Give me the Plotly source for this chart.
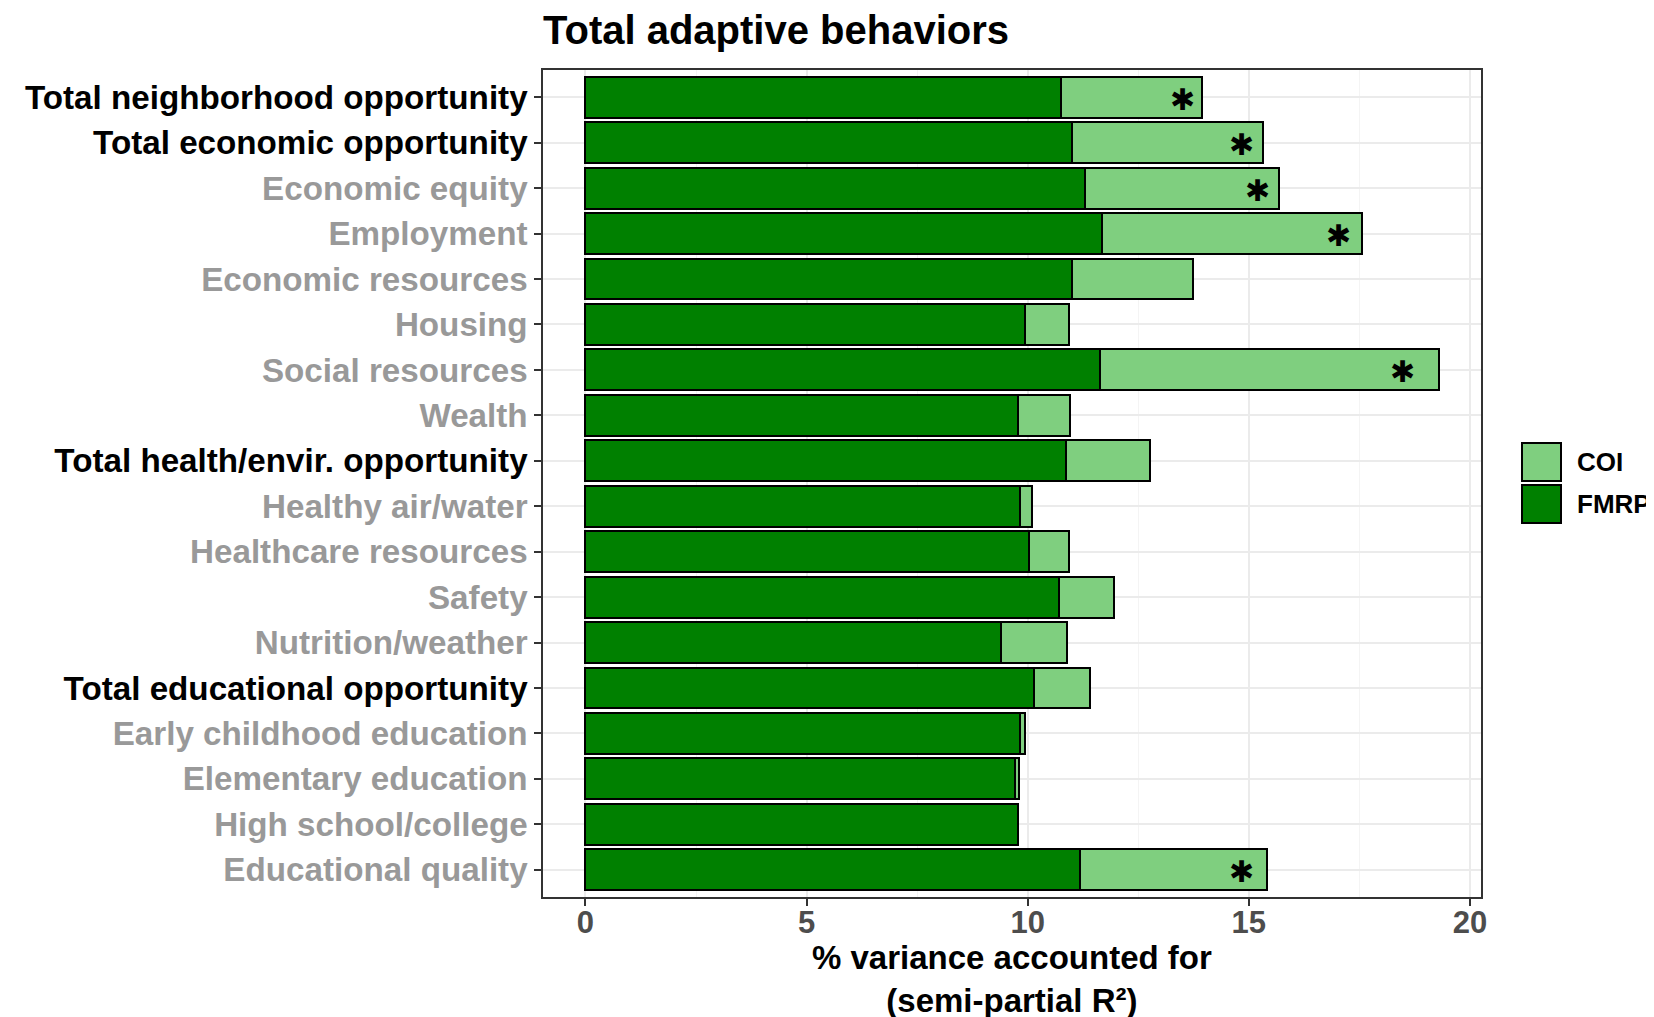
import plotly.graph_objects as go

categories = [
    "Total neighborhood opportunity", "Total economic opportunity", "Economic equity",
    "Employment", "Economic resources", "Housing", "Social resources", "Wealth",
    "Total health/envir. opportunity", "Healthy air/water", "Healthcare resources",
    "Safety", "Nutrition/weather", "Total educational opportunity",
    "Early childhood education", "Elementary education", "High school/college",
    "Educational quality",
]
is_total = [True, True, False, False, False, False, False, False, True,
            False, False, False, False, True, False, False, False, False]
fmrp = [10.76, 11.00, 11.29, 11.69, 11.00, 9.93, 11.64, 9.79, 10.86,
        9.83, 10.02, 10.71, 9.40, 10.14, 9.83, 9.71, 9.79, 11.19]
total = [13.95, 15.31, 15.69, 17.55, 13.74, 10.93, 19.29, 10.95, 12.76,
         10.10, 10.93, 11.95, 10.88, 11.40, 9.93, 9.81, 9.79, 15.40]
coi = [round(t - f, 3) for t, f in zip(total, fmrp)]

# significance markers: category and x-position of the "*"
star_categories = ["Total neighborhood opportunity", "Total economic opportunity",
                   "Economic equity", "Employment", "Social resources",
                   "Educational quality"]
star_x = [13.50, 14.84, 15.19, 17.02, 18.48, 14.84]

x_ticks = [0, 5, 10, 15, 20]

FMRP_COLOR = "#008000"
COI_COLOR = "#7FCF7F"
FONT = "Liberation Sans, Arial, sans-serif"

W, H = 1654, 1017
ML, MR, MT, MB = 535, 181, 62, 128
PW, PH = W - ML - MR, H - MT - MB

fig = go.Figure()
fig.add_trace(go.Bar(y=categories, x=fmrp, orientation="h", name="FMRP",
                     marker=dict(color=FMRP_COLOR, line=dict(color="black", width=2)),
                     width=0.9, showlegend=False))
fig.add_trace(go.Bar(y=categories, x=coi, orientation="h", name="COI",
                     marker=dict(color=COI_COLOR, line=dict(color="black", width=2)),
                     width=0.9, showlegend=False))

for c, sx in zip(star_categories, star_x):
    fig.add_annotation(x=sx, y=c, text="\u2731", showarrow=False,
                       xanchor="center", yanchor="middle", yshift=-2,
                       font=dict(size=30, color="black", family="DejaVu Sans"))

ticktext = [
    f"<b><span style='color:{'#000000' if t else '#999999'}'>{c}</span></b>"
    for c, t in zip(categories, is_total)
]

fig.update_layout(
    width=W, height=H,
    barmode="stack",
    plot_bgcolor="white", paper_bgcolor="white",
    margin=dict(l=ML, r=MR, t=MT, b=MB),
    font=dict(family=FONT),
    title=dict(text="<b>Total adaptive behaviors</b>", x=535 / W, xanchor="left",
               y=1 - 22 / H, yanchor="middle",
               font=dict(size=40, color="black", family=FONT)),
    xaxis=dict(range=[-0.96, 20.25], tickvals=x_ticks,
               ticktext=[f"<b>{v}</b>" for v in x_ticks],
               tickfont=dict(size=31, color="#4D4D4D", family=FONT),
               ticks="outside", ticklen=7, tickcolor="#333333", tickwidth=1.5,
               ticklabelstandoff=-10,
               showgrid=True, gridcolor="#EBEBEB", gridwidth=1.5,
               minor=dict(dtick=2.5, showgrid=True, gridcolor="#F4F4F4", gridwidth=1),
               showline=True, linecolor="#333333", linewidth=1.5, mirror=True,
               zeroline=False, automargin=False),
    yaxis=dict(categoryorder="array", categoryarray=categories,
               autorange=False, range=[17.6, -0.6],
               tickvals=categories, ticktext=ticktext,
               tickfont=dict(size=33.2, family=FONT),
               ticks="outside", ticklen=7, tickcolor="#333333", tickwidth=1.5,
               showgrid=True, gridcolor="#EBEBEB", gridwidth=1.5,
               showline=True, linecolor="#333333", linewidth=1.5, mirror=True,
               automargin=False),
)

# x-axis title (two lines)
fig.add_annotation(xref="paper", yref="paper", x=0.5, y=(H - MB - 929) / PH,
                   xanchor="center", yanchor="top", showarrow=False,
                   text="<b>% variance accounted for<br>(semi-partial R²)</b>",
                   font=dict(size=33, color="black", family=FONT))

# custom legend (layout decoration)
legend_items = [("COI", COI_COLOR, 435, 473), ("FMRP", FMRP_COLOR, 477, 515)]
for name, col, top, bot in legend_items:
    fig.add_shape(type="rect", xref="paper", yref="paper",
                  x0=(1514 - ML) / PW, x1=(1553 - ML) / PW,
                  y0=(H - MB - bot) / PH, y1=(H - MB - top) / PH,
                  fillcolor=col, line=dict(color="black", width=2))
    fig.add_annotation(xref="paper", yref="paper", x=(1567 - ML) / PW,
                       y=(H - MB - (top + bot) / 2) / PH,
                       text=f"<b>{name}</b>", showarrow=False, xanchor="left",
                       font=dict(size=26, color="black", family=FONT))

fig.write_html("out.html")
